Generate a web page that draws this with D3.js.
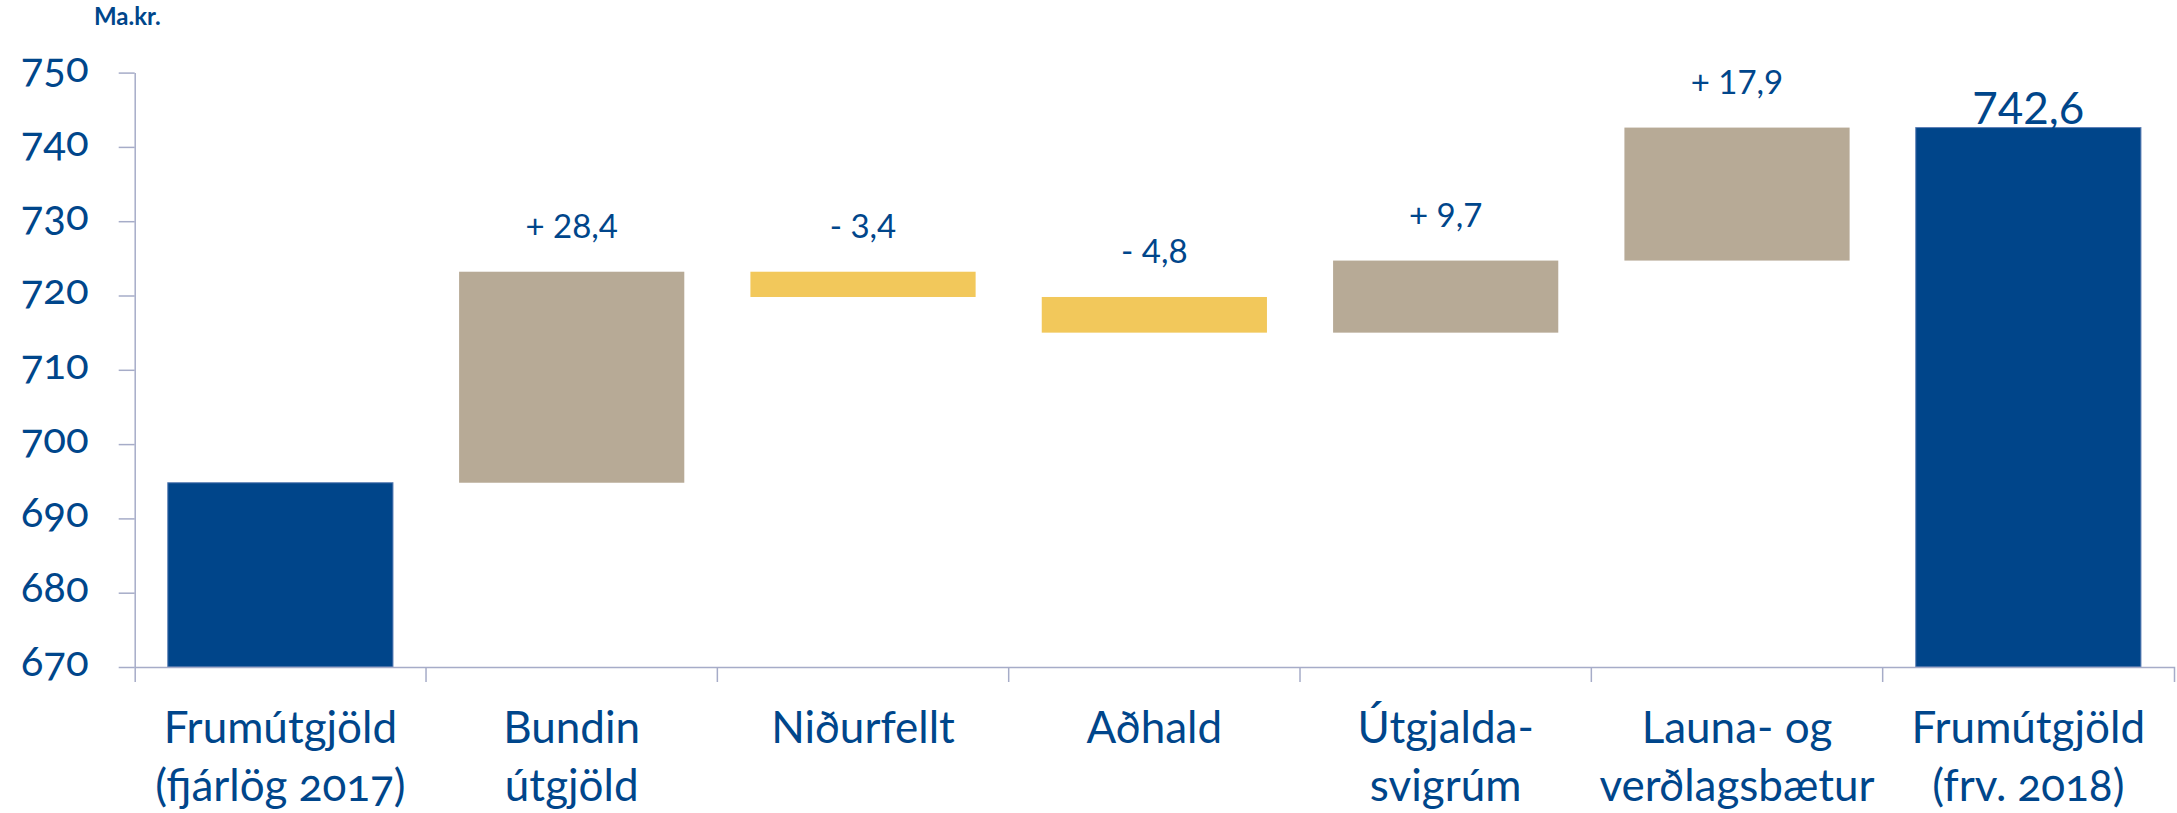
<!DOCTYPE html>
<html>
<head>
<meta charset="utf-8">
<script src="https://cdn.jsdelivr.net/npm/d3@7"></script>
<style>
  body { margin: 0; background: #fff; }
  text { font-family: Lato, "Open Sans", sans-serif; fill: #00468b; }
  .oldnum { font-variant-numeric: oldstyle-nums; font-feature-settings: "onum" 1; }
</style>
</head>
<body>
<div id="chart"></div>
<script>
// categories and label lines
const categories = ["start", "bundin", "nidurfellt", "adhald", "svigrum", "launa", "total"];
const catLines = [
  ["Frumútgjöld", "(fjárlög 2017)"],
  ["Bundin", "útgjöld"],
  ["Niðurfellt"],
  ["Aðhald"],
  ["Útgjalda-", "svigrúm"],
  ["Launa- og", "verðlagsbætur"],
  ["Frumútgjöld", "(frv. 2018)"]
];
// start value, changes, end total
const startValue = 694.8;
const changes = [28.4, -3.4, -4.8, 9.7, 17.9];
const totalValue = 742.6;
const valueLabels = ["+ 28,4", "- 3,4", "- 4,8", "+ 9,7", "+ 17,9"];
const totalLabel = "742,6";
const yTicks = [670, 680, 690, 700, 710, 720, 730, 740, 750];

const W = 2177, H = 813;
const margin = { left: 134.7, right: 2174, top: 72.6, bottom: 667 };

const svg = d3.select("#chart")
  .append("svg")
  .attr("width", W)
  .attr("height", H);

const x = d3.scaleBand()
  .domain(categories)
  .range([margin.left, margin.right]);

const y = d3.scaleLinear()
  .domain([670, 750])
  .range([margin.bottom, margin.top]);

const barW = x.bandwidth() * 0.773;
const off = (x.bandwidth() - barW) / 2;

// build bar table from the values
let run = startValue;
const bars = [{ cat: categories[0], y0: 670, y1: startValue, type: "total" }];
changes.forEach((c, i) => {
  const from = run;
  run = run + c;
  bars.push({ cat: categories[i + 1], y0: Math.min(from, run), y1: Math.max(from, run),
    type: c >= 0 ? "up" : "down", label: valueLabels[i] });
});
bars.push({ cat: categories[6], y0: 670, y1: totalValue, type: "total", label: totalLabel, big: true });

const fill = { total: "#00458a", up: "#b7aa96", down: "#f2c85b" };

svg.selectAll(".bar")
  .data(bars)
  .enter()
  .append("rect")
  .attr("class", "bar")
  .attr("x", d => x(d.cat) + off)
  .attr("y", d => y(d.y1))
  .attr("width", barW)
  .attr("height", d => y(d.y0) - y(d.y1))
  .attr("fill", d => fill[d.type])
  .attr("stroke", d => d.type == "total" ? "#5a7db4" : "none")
  .attr("stroke-width", 1);

// y axis
const yAxis = d3.axisLeft(y)
  .tickValues(yTicks)
  .tickSize(16)
  .tickSizeOuter(0)
  .tickPadding(30);

const gy = svg.append("g")
  .attr("transform", `translate(${margin.left},0)`)
  .call(yAxis);
gy.select(".domain").attr("stroke", "#a6acc8").attr("stroke-width", 1.5);
gy.selectAll(".tick line").attr("stroke", "#a6acc8").attr("stroke-width", 1.5);
gy.selectAll(".tick text")
  .attr("class", "oldnum")
  .attr("fill", "#00468b")
  .style("font-size", "42px")
  .attr("dy", "0.2em");

// x axis
const xAxis = d3.axisBottom(x)
  .tickSize(0)
  .tickSizeOuter(15)
  .tickFormat("");

const gx = svg.append("g")
  .attr("transform", `translate(0,${margin.bottom})`)
  .call(xAxis);
gx.select(".domain").attr("stroke", "#a6acc8").attr("stroke-width", 1.5);
gx.selectAll(".tick").remove();

gx.selectAll(".sep")
  .data(categories.slice(1))
  .enter()
  .append("line")
  .attr("x1", d => x(d))
  .attr("x2", d => x(d))
  .attr("y1", 0)
  .attr("y2", 15)
  .attr("stroke", "#a6acc8")
  .attr("stroke-width", 1.5);

// category labels
const cat = svg.selectAll(".cat")
  .data(categories)
  .enter()
  .append("text")
  .attr("class", "cat oldnum")
  .attr("text-anchor", "middle")
  .style("font-size", "44px");

cat.selectAll("tspan")
  .data((d, i) => catLines[i].map(t => ({ t: t, c: d })))
  .enter()
  .append("tspan")
  .attr("x", d => x(d.c) + x.bandwidth() / 2)
  .attr("y", (d, j) => 743 + j * 58)
  .text(d => d.t);

// value labels
svg.selectAll(".label")
  .data(bars.filter(d => d.label))
  .enter()
  .append("text")
  .attr("class", "label")
  .attr("text-anchor", "middle")
  .attr("x", d => x(d.cat) + x.bandwidth() / 2)
  .attr("y", d => y(d.y1) - (d.big ? 4 : 34))
  .style("font-size", d => d.big ? "44px" : "33px")
  .text(d => d.label);

// unit label
svg.append("text")
  .attr("x", 94)
  .attr("y", 25)
  .style("font-size", "24px")
  .style("font-weight", "bold")
  .text("Ma.kr.");
</script>
</body>
</html>
